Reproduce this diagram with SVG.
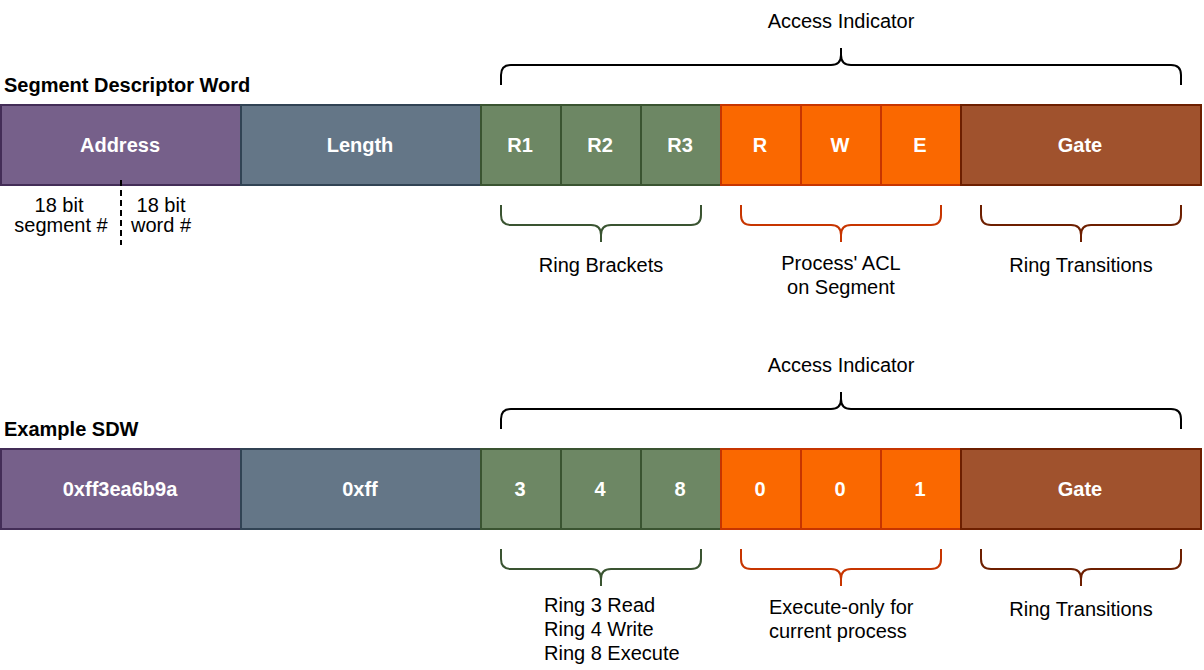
<svg xmlns="http://www.w3.org/2000/svg" width="1204" height="670" viewBox="0 0 1204 670">
<style>
text{font-family:"Liberation Sans",Arial,sans-serif;font-size:20px;fill:#000}
.c{text-anchor:middle}
.b{font-weight:bold}
.w{fill:#fff;font-weight:bold;text-anchor:middle}
.cell{stroke-width:2}
.pu{fill:#76608a;stroke:#432d57}
.sl{fill:#647687;stroke:#314354}
.gr{fill:#6d8764;stroke:#3a5431}
.or{fill:#fa6800;stroke:#c73500}
.br{fill:#a0522d;stroke:#6d1f00}
.brace{fill:none;stroke-width:2}
</style>
<rect width="1204" height="670" fill="#fff"/>
<g id="row1">
<text x="4" y="92" class="b">Segment Descriptor Word</text>
<g id="n-address"><rect class="cell pu" x="1" y="105" width="240" height="80"/><text x="120" y="152" class="w">Address</text></g>
<g id="n-length"><rect class="cell sl" x="241" y="105" width="240" height="80"/><text x="360" y="152" class="w">Length</text></g>
<g id="n-r1"><rect class="cell gr" x="481" y="105" width="80" height="80"/><text x="520" y="152" class="w">R1</text></g>
<g id="n-r2"><rect class="cell gr" x="561" y="105" width="80" height="80"/><text x="600" y="152" class="w">R2</text></g>
<g id="n-r3"><rect class="cell gr" x="641" y="105" width="80" height="80"/><text x="680" y="152" class="w">R3</text></g>
<g id="n-r"><rect class="cell or" x="721" y="105" width="80" height="80"/><text x="760" y="152" class="w">R</text></g>
<g id="n-w"><rect class="cell or" x="801" y="105" width="80" height="80"/><text x="840" y="152" class="w">W</text></g>
<g id="n-e"><rect class="cell or" x="881" y="105" width="80" height="80"/><text x="920" y="152" class="w">E</text></g>
<g id="n-gate"><rect class="cell br" x="961" y="105" width="240" height="80"/><text x="1080" y="152" class="w">Gate</text></g>
<line x1="121" y1="180" x2="121" y2="245" stroke="#000" stroke-width="2" stroke-dasharray="6 4"/>
<text x="59" y="212" class="c">18 bit</text>
<text x="61" y="232" class="c">segment #</text>
<text x="161" y="212" class="c">18 bit</text>
<text x="161" y="232" class="c">word #</text>
<text x="841" y="28" class="c">Access Indicator</text>
<path class="brace" stroke="#000" d="M501 85V75Q501 65 511 65H831Q841 65 841 55V48M841 55Q841 65 851 65H1171Q1181 65 1181 75V85"/>
<path class="brace" stroke="#3a5431" d="M501 205V215Q501 225 511 225H591Q601 225 601 235V242M601 235Q601 225 611 225H691Q701 225 701 215V205"/>
<path class="brace" stroke="#c73500" d="M741 205V215Q741 225 751 225H831Q841 225 841 235V242M841 235Q841 225 851 225H931Q941 225 941 215V205"/>
<path class="brace" stroke="#6d1f00" d="M981 205V215Q981 225 991 225H1071Q1081 225 1081 235V242M1081 235Q1081 225 1091 225H1171Q1181 225 1181 215V205"/>
<text x="601" y="272" class="c">Ring Brackets</text>
<text x="841" y="270" class="c">Process' ACL</text>
<text x="841" y="294" class="c">on Segment</text>
<text x="1081" y="272" class="c">Ring Transitions</text>
</g>
<g id="row2">
<text x="4" y="436" class="b">Example SDW</text>
<g id="n-address2"><rect class="cell pu" x="1" y="449" width="240" height="80"/><text x="120" y="496" class="w">0xff3ea6b9a</text></g>
<g id="n-length2"><rect class="cell sl" x="241" y="449" width="240" height="80"/><text x="360" y="496" class="w">0xff</text></g>
<g id="n-r1v"><rect class="cell gr" x="481" y="449" width="80" height="80"/><text x="520" y="496" class="w">3</text></g>
<g id="n-r2v"><rect class="cell gr" x="561" y="449" width="80" height="80"/><text x="600" y="496" class="w">4</text></g>
<g id="n-r3v"><rect class="cell gr" x="641" y="449" width="80" height="80"/><text x="680" y="496" class="w">8</text></g>
<g id="n-rv"><rect class="cell or" x="721" y="449" width="80" height="80"/><text x="760" y="496" class="w">0</text></g>
<g id="n-wv"><rect class="cell or" x="801" y="449" width="80" height="80"/><text x="840" y="496" class="w">0</text></g>
<g id="n-ev"><rect class="cell or" x="881" y="449" width="80" height="80"/><text x="920" y="496" class="w">1</text></g>
<g id="n-gate2"><rect class="cell br" x="961" y="449" width="240" height="80"/><text x="1080" y="496" class="w">Gate</text></g>
<text x="841" y="372" class="c">Access Indicator</text>
<path class="brace" stroke="#000" d="M501 429V419Q501 409 511 409H831Q841 409 841 399V392M841 399Q841 409 851 409H1171Q1181 409 1181 419V429"/>
<path class="brace" stroke="#3a5431" d="M501 549V559Q501 569 511 569H591Q601 569 601 579V586M601 579Q601 569 611 569H691Q701 569 701 559V549"/>
<path class="brace" stroke="#c73500" d="M741 549V559Q741 569 751 569H831Q841 569 841 579V586M841 579Q841 569 851 569H931Q941 569 941 559V549"/>
<path class="brace" stroke="#6d1f00" d="M981 549V559Q981 569 991 569H1071Q1081 569 1081 579V586M1081 579Q1081 569 1091 569H1171Q1181 569 1181 559V549"/>
<text x="544" y="612">Ring 3 Read</text>
<text x="544" y="636">Ring 4 Write</text>
<text x="544" y="660">Ring 8 Execute</text>
<text x="769" y="614">Execute-only for</text>
<text x="769" y="638">current process</text>
<text x="1081" y="616" class="c">Ring Transitions</text>
</g>
</svg>
